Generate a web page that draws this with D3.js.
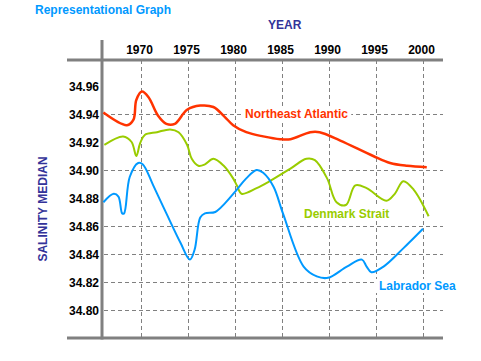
<!DOCTYPE html>
<meta charset="utf-8">
<style>
  body { margin: 0; background: #fff; }
  text { font-family: "Liberation Sans", Arial, sans-serif; font-weight: bold; }
</style>
<body>
<script src="https://d3js.org/d3.v7.min.js"></script>
<script>

// axis values
const yearTicks = [1970, 1975, 1980, 1985, 1990, 1995, 2000];
const salinityTicks = [34.80, 34.82, 34.84, 34.86, 34.88, 34.90, 34.92, 34.94, 34.96];
const gridValues = [34.80, 34.82, 34.84, 34.86, 34.90, 34.94];

// series
const neYears = [1966.0, 1968.5, 1969.2, 1969.5, 1970.1, 1970.8, 1971.8, 1972.7, 1973.6, 1974.9, 1976.3, 1977.7, 1978.9, 1979.8, 1981.2, 1983.0, 1984.8, 1985.9, 1988.0, 1989.0, 1991.2, 1994.7, 1996.5, 1998.3, 2000.4];
const neValues = [34.941, 34.932, 34.936, 34.950, 34.956, 34.952, 34.939, 34.933, 34.933, 34.943, 34.946, 34.945, 34.938, 34.932, 34.927, 34.924, 34.922, 34.922, 34.927, 34.927, 34.921, 34.910, 34.905, 34.903, 34.902];

const dkYears = [1966.1, 1968.1, 1969.0, 1969.5, 1969.9, 1970.4, 1971.7, 1973.1, 1974.0, 1974.9, 1975.4, 1976.1, 1976.8, 1977.7, 1978.8, 1979.8, 1980.2, 1980.7, 1982.3, 1983.7, 1985.9, 1987.6, 1988.5, 1989.8, 1990.8, 1991.8, 1992.8, 1994.0, 1996.1, 1997.0, 1997.9, 1999.0, 2000.6];
const dkValues = [34.918, 34.924, 34.920, 34.910, 34.919, 34.925, 34.927, 34.929, 34.927, 34.918, 34.908, 34.903, 34.904, 34.908, 34.903, 34.894, 34.889, 34.883, 34.887, 34.892, 34.901, 34.908, 34.907, 34.894, 34.877, 34.875, 34.889, 34.887, 34.878, 34.883, 34.892, 34.886, 34.867];

const lbYears = [1966.0, 1967.1, 1967.6, 1968.0, 1968.2, 1968.8, 1969.7, 1970.2, 1971.3, 1972.7, 1974.2, 1975.2, 1975.7, 1976.3, 1976.8, 1977.9, 1978.9, 1980.2, 1981.2, 1982.3, 1983.0, 1984.1, 1985.1, 1987.3, 1988.7, 1989.9, 1991.9, 1993.5, 1994.0, 1994.5, 1995.8, 1997.9, 2000.0];
const lbValues = [34.877, 34.883, 34.881, 34.869, 34.869, 34.895, 34.905, 34.904, 34.889, 34.869, 34.848, 34.836, 34.843, 34.866, 34.869, 34.870, 34.876, 34.886, 34.894, 34.900, 34.898, 34.888, 34.869, 34.831, 34.824, 34.823, 34.831, 34.836, 34.831, 34.827, 34.831, 34.844, 34.858];

const series = [
  {name: "Northeast Atlantic", years: neYears, values: neValues, color: "#ff3300", width: 2.5, label: [245, 118]},
  {name: "Denmark Strait", years: dkYears, values: dkValues, color: "#99cc00", width: 2, label: [304, 218]},
  {name: "Labrador Sea", years: lbYears, values: lbValues, color: "#0099ff", width: 2, label: [379, 290]}
];

const width = 481, height = 361;

const svg = d3.select("body").append("svg")
  .attr("width", width)
  .attr("height", height);

svg.append("rect").attr("width", width).attr("height", height).attr("fill", "#fff");

// scales
const x = d3.scaleLinear().domain([1970, 2000]).range([141, 423]);
const y = d3.scaleLinear().domain([34.80, 34.94]).range([310, 114]);

const plotLeft = 102, plotRight = 443, plotTop = 60, plotBottom = 338;

// dashed grid
svg.append("g").selectAll("line.v")
  .data(yearTicks)
  .join("line")
  .attr("x1", d => Math.round(x(d)) + 0.5).attr("x2", d => Math.round(x(d)) + 0.5)
  .attr("y1", plotTop).attr("y2", plotBottom)
  .attr("stroke", "#808080").attr("stroke-dasharray", "4,3");

svg.append("g").selectAll("line.h")
  .data(gridValues)
  .join("line")
  .attr("x1", plotLeft + 2).attr("x2", plotRight)
  .attr("y1", d => Math.round(y(d)) + 0.5).attr("y2", d => Math.round(y(d)) + 0.5)
  .attr("stroke", "#808080").attr("stroke-dasharray", "4,3");

// frame lines
svg.append("line")
  .attr("x1", 67).attr("x2", plotRight).attr("y1", plotTop).attr("y2", plotTop)
  .attr("stroke", "#808080").attr("stroke-width", 3);
svg.append("line")
  .attr("x1", 67).attr("x2", plotRight).attr("y1", plotBottom).attr("y2", plotBottom)
  .attr("stroke", "#808080").attr("stroke-width", 3);
svg.append("line")
  .attr("x1", plotLeft).attr("x2", plotLeft).attr("y1", 40).attr("y2", plotBottom + 1.5)
  .attr("stroke", "#808080").attr("stroke-width", 3);

// axes (labels only)
const xAxis = svg.append("g")
  .attr("transform", "translate(0,50)")
  .call(d3.axisTop(x).tickValues(yearTicks).tickFormat(d3.format("d")).tickSize(0).tickPadding(0));
xAxis.select(".domain").remove();
xAxis.selectAll("text")
  .attr("dx", -2).attr("dy", 4)
  .attr("font-size", 12).attr("font-family", null).attr("fill", "#000");

const yAxis = svg.append("g")
  .attr("transform", "translate(99,0)")
  .call(d3.axisLeft(y).tickValues(salinityTicks).tickFormat(d3.format(".2f")).tickSize(0).tickPadding(0));
yAxis.select(".domain").remove();
yAxis.selectAll("text")
  .attr("dy", "0.38em")
  .attr("font-size", 12).attr("font-family", null).attr("fill", "#000");

// lines
const line = d3.line().curve(d3.curveCatmullRom.alpha(0.5));
series.forEach(s => {
  const pts = s.years.map((yr, i) => [x(yr), y(s.values[i])]);
  svg.append("path")
    .attr("d", line(pts))
    .attr("fill", "none")
    .attr("stroke", s.color)
    .attr("stroke-width", s.width);
});

// series labels sit on a white box that hides the grid behind them
series.forEach(s => {
  const g = svg.append("g");
  const bg = g.append("rect").attr("fill", "#fff");
  const t = g.append("text")
    .attr("x", s.label[0]).attr("y", s.label[1])
    .attr("font-size", 12)
    .attr("fill", s.color)
    .text(s.name);
  const bb = t.node().getBBox();
  bg.attr("x", bb.x - 3).attr("y", bb.y).attr("width", bb.width + 6).attr("height", bb.height);
});

// titles
svg.append("text")
  .attr("x", 35).attr("y", 14)
  .attr("font-size", 12)
  .attr("fill", "#0099ff")
  .text("Representational Graph");

svg.append("text")
  .attr("x", 268).attr("y", 29)
  .attr("font-size", 12)
  .attr("fill", "#333399")
  .text("YEAR");

svg.append("text")
  .attr("transform", "translate(47,209) rotate(-90)")
  .attr("text-anchor", "middle")
  .attr("font-size", 12)
  .attr("fill", "#333399")
  .text("SALINITY MEDIAN");

</script>
</body>
